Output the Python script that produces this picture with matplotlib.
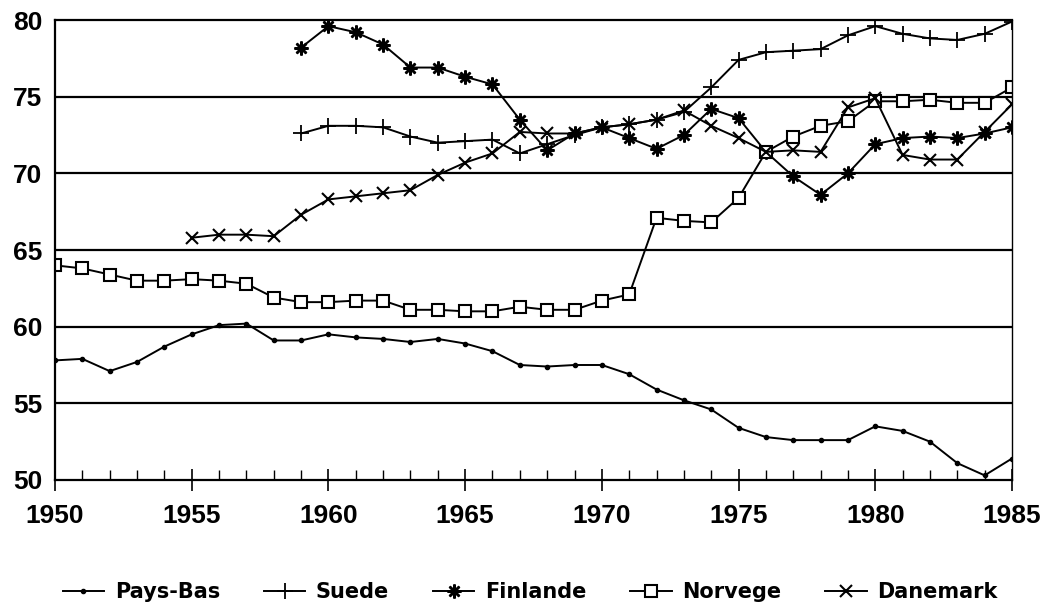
import numpy as np
import matplotlib
matplotlib.use("Agg")
import matplotlib.pyplot as plt

# annees 1950 .. 1985
years = list(range(1950, 1986))

pays_bas = [57.8, 57.9, 57.1, 57.7, 58.7, 59.5, 60.1, 60.2, 59.1, 59.1,
            59.5, 59.3, 59.2, 59.0, 59.2, 58.9, 58.4, 57.5, 57.4, 57.5,
            57.5, 56.9, 55.9, 55.2, 54.6, 53.4, 52.8, 52.6, 52.6, 52.6,
            53.5, 53.2, 52.5, 51.1, 50.3, 51.4]

# Suede, Finlande start in 1959; Danemark in 1955
suede = [None] * 9 + [72.6, 73.1, 73.1, 73.0, 72.4, 72.0, 72.1, 72.2, 71.3, 71.9,
                      72.5, 73.0, 73.2, 73.5, 74.0, 75.6, 77.4, 77.9, 78.0, 78.1,
                      79.0, 79.6, 79.1, 78.8, 78.7, 79.1, 79.9]
finlande = [None] * 9 + [78.2, 79.6, 79.2, 78.4, 76.9, 76.9, 76.3, 75.8, 73.5, 71.5,
                         72.6, 73.0, 72.3, 71.6, 72.5, 74.2, 73.6, 71.4, 69.8, 68.6,
                         70.0, 71.9, 72.3, 72.4, 72.3, 72.6, 73.0]
norvege = [64.0, 63.8, 63.4, 63.0, 63.0, 63.1, 63.0, 62.8, 61.9, 61.6,
           61.6, 61.7, 61.7, 61.1, 61.1, 61.0, 61.0, 61.3, 61.1, 61.1,
           61.7, 62.1, 67.1, 66.9, 66.8, 68.4, 71.4, 72.4, 73.1, 73.4,
           74.7, 74.7, 74.8, 74.6, 74.6, 75.6]
danemark = [None] * 5 + [65.8, 66.0, 66.0, 65.9, 67.3, 68.3, 68.5, 68.7, 68.9, 69.9,
                         70.7, 71.3, 72.7, 72.6, 72.6, 73.0, 73.2, 73.5, 74.1, 73.1,
                         72.3, 71.4, 71.5, 71.4, 74.3, 74.9, 71.2, 70.9, 70.9, 72.7,
                         74.5]

series = [
    ("Pays-Bas", pays_bas, dict(marker="o", markersize=3)),
    ("Suede", suede, dict(marker="+", markersize=12, markeredgewidth=1.3)),
    ("Finlande", finlande, dict(marker=(8, 2, 0), markersize=10, markeredgewidth=1.8)),
    ("Norvege", norvege, dict(marker="s", markersize=8, markerfacecolor="white",
                              markeredgewidth=1.5)),
    ("Danemark", danemark, dict(marker="x", markersize=9, markeredgewidth=1.5)),
]

fig = plt.figure(figsize=(10.6, 6.03), dpi=100)
ax = fig.add_axes([0.0519, 0.204, 0.9028, 0.7628])

for name, vals, style in series:
    y = np.array([np.nan if v is None else v for v in vals], dtype=float)
    ax.plot(years, y, color="black", lw=1.4, label=name, **style)

ax.set_xlim(1950, 1985)
ax.set_ylim(50, 80)
ax.set_yticks([50, 55, 60, 65, 70, 75, 80])
ax.set_xticks(range(1950, 1986, 5))
ax.set_xticks(range(1950, 1986), minor=True)

for v in [55, 60, 65, 70, 75]:
    ax.axhline(v, color="black", lw=1.6, zorder=0)

for side in ["left", "bottom", "top"]:
    ax.spines[side].set_linewidth(1.6)
ax.spines["right"].set_linewidth(1.0)

ax.tick_params(axis="y", length=0, pad=9, labelsize=19)
ax.tick_params(axis="x", which="major", direction="inout", length=16, width=1.2,
               labelsize=19, pad=9)
ax.tick_params(axis="x", which="minor", direction="in", length=7, width=1.0)

for lab in ax.get_xticklabels() + ax.get_yticklabels():
    lab.set_fontfamily("Liberation Sans")
    lab.set_fontweight("bold")

fig.legend(loc="lower center", bbox_to_anchor=(0.5, -0.03), ncol=5, frameon=False,
           handlelength=2.0, columnspacing=2.1, handletextpad=0.5,
           prop=dict(family="DejaVu Sans", weight="bold", size=15))

fig.savefig("out.png", dpi=100, facecolor="white")
